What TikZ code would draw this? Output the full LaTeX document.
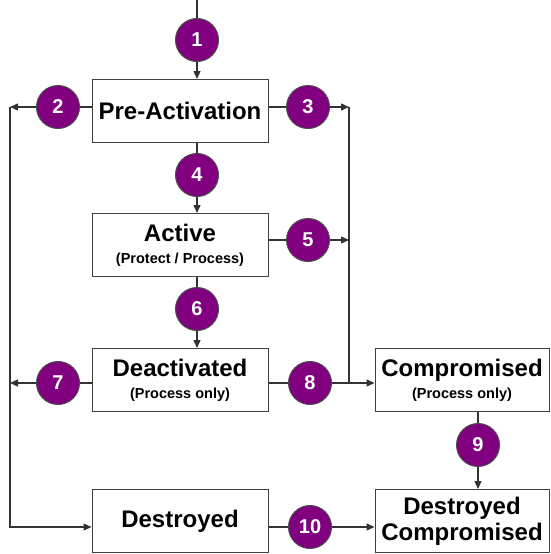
\documentclass[tikz,border=0pt]{standalone}
\usepackage{fontspec}
\setmainfont{Liberation Sans}
\usetikzlibrary{arrows.meta}
\definecolor{numpurple}{RGB}{128,0,128}
\newcommand{\subtxt}[1]{{\fontsize{14.5}{16}\selectfont #1}}

\begin{document}
\begin{tikzpicture}[x=1pt,y=-1pt,line width=1.3pt,draw=black!80,
        statebox/.style={draw=black!75,line width=1pt,fill=white,minimum width=176pt,minimum height=63pt,
          inner sep=0pt,align=center,font=\bfseries\fontsize{24}{26}\selectfont},
        stepnum/.style={circle,draw=black!70,line width=1pt,fill=numpurple,text=white,minimum size=43pt,
          inner sep=0pt,font=\bfseries\fontsize{20}{20}\selectfont},
        arr/.style={-{Triangle[length=8pt,width=7pt]}}]
                \useasboundingbox (0,0) rectangle (550,554);
                \node[statebox] (pre) at (180,111) {Pre-Activation};
                \node[statebox] (act) at (180,245) {Active\\[-4pt]\subtxt{(Protect / Process)}};
                \node[statebox] (deact) at (180,380) {Deactivated\\[-4pt]\subtxt{(Process only)}};
                \node[statebox] (destr) at (180,521) {Destroyed};
                \node[statebox,minimum width=174pt] (comp) at (462,380) {Compromised\\[-4pt]\subtxt{(Process only)}};
                \node[statebox,minimum width=174pt] (dcomp) at (462,521) {Destroyed\\Compromised};

                \coordinate (top) at (197,0);
                \coordinate (lefttop) at (10,107);
                \coordinate (leftmid) at (10,383);
                \coordinate (leftbot) at (10,527);
                \coordinate (righttop) at (349,107);
                \coordinate (rightmid) at (349,240);
                \coordinate (rightbot) at (349,383);

                \node[stepnum] (n1) at (197,40) {1};
                \node[stepnum] (n2) at (58,107) {2};
                \node[stepnum] (n3) at (308,107) {3};
                \node[stepnum] (n4) at (197,175) {4};
                \node[stepnum] (n5) at (308,240) {5};
                \node[stepnum] (n6) at (197,309) {6};
                \node[stepnum] (n7) at (58,383) {7};
                \node[stepnum] (n8) at (310,383) {8};
                \node[stepnum] (n9) at (478,445) {9};
                \node[stepnum] (n10) at (310,527) {10};

                \draw (top) -- (n1);
                \draw[arr] (n1) -- (n1 |- pre.north);
                \draw (pre.west |- n2) -- (n2);
                \draw[arr] (n2) -- (lefttop);
                \draw[arr] (lefttop) -- (leftbot) -- (destr.west |- leftbot);
                \draw (pre.east |- n3) -- (n3);
                \draw[arr] (n3) -- (righttop);
                \draw (righttop) -- (rightbot);
                \draw (n4 |- pre.south) -- (n4);
                \draw[arr] (n4) -- (n4 |- act.north);
                \draw (act.east |- n5) -- (n5);
                \draw[arr] (n5) -- (rightmid);
                \draw (n6 |- act.south) -- (n6);
                \draw[arr] (n6) -- (n6 |- deact.north);
                \draw (deact.west |- n7) -- (n7);
                \draw[arr] (n7) -- (leftmid);
                \draw (deact.east |- n8) -- (n8);
                \draw[arr] (n8) -- (comp.west |- n8);
                \draw (n9 |- comp.south) -- (n9);
                \draw[arr] (n9) -- (n9 |- dcomp.north);
                \draw (destr.east |- n10) -- (n10);
                \draw[arr] (n10) -- (dcomp.west |- n10);
            \end{tikzpicture}
\end{document}
